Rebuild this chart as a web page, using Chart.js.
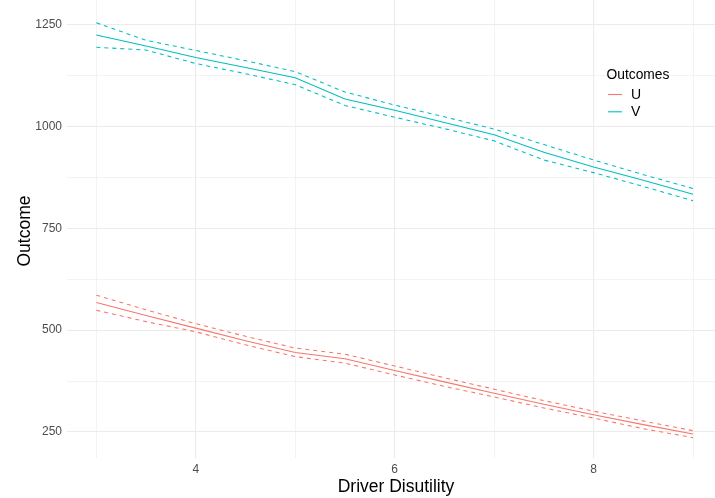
<!DOCTYPE html>
<html>
<head>
<meta charset="utf-8">
<script src="https://cdn.jsdelivr.net/npm/chart.js@4/dist/chart.umd.min.js"></script>
<style>
  html, body { margin: 0; padding: 0; background: #ffffff; }
  canvas { display: block; }
</style>
</head>
<body>
<canvas id="chart" width="715" height="498"></canvas>
<script>
// Driver disutility grid and the two outcome series with their bands
const xValues = [3, 3.5, 4, 4.5, 5, 5.5, 6, 6.5, 7, 7.5, 8, 8.5, 9];

const uMean  = [568, 536, 505, 474, 445, 430, 401, 373, 345, 318, 292, 268, 245];
const uUpper = [586, 550, 516, 485, 456, 441, 412, 383, 355, 327, 301, 277, 253];
const uLower = [549, 521, 496, 464, 435, 419, 390, 362, 336, 309, 284, 258, 236];

const vMean  = [1225, 1198, 1170, 1145, 1120, 1068, 1040, 1010, 980, 937, 901, 868, 834];
const vUpper = [1255, 1212, 1187, 1162, 1135, 1085, 1053, 1024, 994, 956, 918, 882, 848];
const vLower = [1195, 1188, 1155, 1130, 1103, 1052, 1023, 995, 965, 918, 887, 853, 818];

const seriesNames = ['U', 'V'];
const legendTitle = 'Outcomes';
const xTitle = 'Driver Disutility';
const yTitle = 'Outcome';

const xTicks = [3, 4, 5, 6, 7, 8, 9];
const xLabelled = [4, 6, 8];
const yTicks = [250, 375, 500, 625, 750, 875, 1000, 1125, 1250];
const yLabelled = [250, 500, 750, 1000, 1250];

const COLORS = { U: '#F8766D', V: '#00BFC4' };
const FONT = '"Liberation Sans", Arial, Helvetica, sans-serif';
const GRID = '#EBEBEB';
const DASH = [4, 4];

function points(ys) {
  return xValues.map((x, i) => ({ x: x, y: ys[i] }));
}

function band(name, mean, upper, lower) {
  const c = COLORS[name];
  return [
    { label: name, data: points(mean), borderColor: c, borderDash: [] },
    { label: name + ' upper', data: points(upper), borderColor: c, borderDash: DASH },
    { label: name + ' lower', data: points(lower), borderColor: c, borderDash: DASH }
  ];
}

const datasets = [
  ...band('U', uMean, uUpper, uLower),
  ...band('V', vMean, vUpper, vLower)
];

// labelled ticks get full-width grid lines, the ones between get half width
function gridWidth(ctx, majors) {
  const v = ctx.tick ? ctx.tick.value : null;
  return majors.includes(v) ? 1.1 : 0.6;
}

// Axis titles and the outcome legend, drawn inside the plotting area
const annotations = {
  id: 'annotations',
  afterDraw(chart) {
    const ctx = chart.ctx;
    ctx.save();
    ctx.fillStyle = '#000000';
    ctx.font = '17.5px ' + FONT;
    ctx.textAlign = 'center';
    ctx.textBaseline = 'alphabetic';
    ctx.fillText(xTitle, 396, 491.5);

    ctx.save();
    ctx.translate(29.5, 231);
    ctx.rotate(-Math.PI / 2);
    ctx.fillText(yTitle, 0, 0);
    ctx.restore();

    ctx.textAlign = 'left';
    ctx.font = '13.8px ' + FONT;
    ctx.fillText(legendTitle, 606.5, 78.5);

    ctx.font = '14px ' + FONT;
    seriesNames.forEach((name, i) => {
      const y = 94.5 + i * 17.3;
      ctx.strokeStyle = COLORS[name];
      ctx.lineWidth = 1.1;
      ctx.setLineDash([]);
      ctx.beginPath();
      ctx.moveTo(608, y);
      ctx.lineTo(622, y);
      ctx.stroke();
      ctx.textBaseline = 'middle';
      ctx.fillStyle = '#000000';
      ctx.fillText(name, 631, y + 0.5);
    });
    ctx.restore();
  }
};

new Chart(document.getElementById('chart'), {
  type: 'line',
  data: { datasets: datasets },
  options: {
    responsive: false,
    animation: false,
    devicePixelRatio: 1,
    layout: { padding: 0 },
    elements: {
      line: { borderWidth: 1.07, tension: 0, fill: false },
      point: { radius: 0, hoverRadius: 0 }
    },
    plugins: {
      legend: { display: false },
      tooltip: { enabled: false }
    },
    scales: {
      x: {
        type: 'linear',
        min: 2.705,
        max: 9.221,
        afterBuildTicks: s => { s.ticks = xTicks.map(v => ({ value: v })); },
        afterFit: s => { s.height = 40; s.paddingLeft = 0; s.paddingRight = 0; },
        ticks: {
          autoSkip: false,
          maxRotation: 0,
          padding: 4.5,
          color: '#4D4D4D',
          font: { family: FONT, size: 12 },
          callback: v => (xLabelled.includes(v) ? String(v) : '')
        },
        grid: {
          drawTicks: false,
          color: GRID,
          lineWidth: ctx => gridWidth(ctx, xLabelled)
        },
        border: { display: false }
      },
      y: {
        type: 'linear',
        min: 186,
        max: 1311,
        afterBuildTicks: s => { s.ticks = yTicks.map(v => ({ value: v })); },
        afterFit: s => { s.width = 67; s.paddingTop = 0; s.paddingBottom = 0; },
        ticks: {
          autoSkip: false,
          padding: 5,
          color: '#4D4D4D',
          font: { family: FONT, size: 12 },
          callback: v => (yLabelled.includes(v) ? String(v) : '')
        },
        grid: {
          drawTicks: false,
          color: GRID,
          lineWidth: ctx => gridWidth(ctx, yLabelled)
        },
        border: { display: false }
      }
    }
  },
  plugins: [annotations]
});
</script>
</body>
</html>
